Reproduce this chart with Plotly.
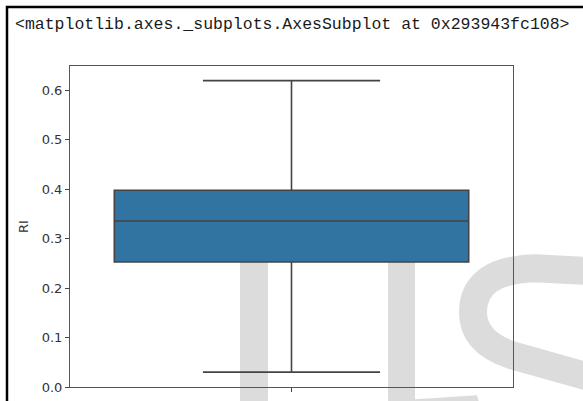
import plotly.graph_objects as go

# ---- data ----
categories = [0]
q1_vals = [0.253]
median_vals = [0.336]
q3_vals = [0.398]
lower_vals = [0.030]
upper_vals = [0.620]
y_tick_vals = [0.0, 0.1, 0.2, 0.3, 0.4, 0.5, 0.6]
y_tick_text = ["0.0", "0.1", "0.2", "0.3", "0.4", "0.5", "0.6"]
header_text = "<matplotlib.axes._subplots.AxesSubplot at 0x293943fc108>"
y_label = "RI"

W, H = 583, 401
L, R, T, B = 70, 70, 66, 14.3
PW, PH = W - L - R, H - T - B


def px(x):
    return (x - L) / PW


def py(y):
    return (H - B - y) / PH


fig = go.Figure()
fig.add_trace(go.Box(
    x=categories, q1=q1_vals, median=median_vals, q3=q3_vals,
    lowerfence=lower_vals, upperfence=upper_vals,
    width=0.8, whiskerwidth=0.5,
    fillcolor="#3274a1",
    line=dict(color="#444444", width=1.6),
    boxpoints=False, showlegend=False, hoverinfo="skip",
))

wm = "#dcdcdc"
shapes = []
# watermark stems
for x0, x1 in [(240, 268), (388, 415)]:
    shapes.append(dict(type="rect", xref="paper", yref="paper", layer="below",
                       x0=px(x0), x1=px(x1), y0=py(405), y1=py(260),
                       fillcolor=wm, line=dict(width=0)))
# watermark S (stroke)
pts = [(590, 271), (535, 268), (473, 270), (473, 312), (473, 342), (512, 355), (590, 377)]
p = [(px(a), py(b)) for a, b in pts]
path = (f"M {p[0][0]},{p[0][1]} L {p[1][0]},{p[1][1]} "
        f"Q {p[2][0]},{p[2][1]} {p[3][0]},{p[3][1]} "
        f"Q {p[4][0]},{p[4][1]} {p[5][0]},{p[5][1]} L {p[6][0]},{p[6][1]}")
shapes.append(dict(type="path", xref="paper", yref="paper", layer="below",
                   path=path, line=dict(color=wm, width=28)))
# S bottom tail fragment
tail = [(415, 405), (415, 399), (477, 395), (480, 405)]
tp = [(px(a), py(b)) for a, b in tail]
shapes.append(dict(type="path", xref="paper", yref="paper", layer="below",
                   path="M " + " L ".join(f"{a},{b}" for a, b in tp) + " Z",
                   fillcolor=wm, line=dict(width=0)))
# outer frame (left and top)
shapes.append(dict(type="path", xref="paper", yref="paper", layer="above",
                   path=f"M {px(7)},{py(410)} L {px(7)},{py(7)} L {px(590)},{py(7)}",
                   line=dict(color="black", width=2.5)))

fig.update_layout(
    width=W, height=H,
    margin=dict(l=L, r=R, t=T, b=B, pad=0),
    paper_bgcolor="white", plot_bgcolor="rgba(0,0,0,0)",
    shapes=shapes,
    font=dict(family="DejaVu Sans", size=13, color="#333333"),
    annotations=[dict(
        text=header_text.replace("<", "&lt;").replace(">", "&gt;"),
        xref="paper", yref="paper", x=px(12.5), y=py(25),
        xanchor="left", yanchor="middle", showarrow=False,
        font=dict(family="Liberation Mono", size=16.5, color="#1a1a1a"),
    )],
)
fig.update_xaxes(
    range=[-0.5, 0.5], tickvals=[0], showticklabels=False, automargin=False,
    ticks="outside", ticklen=4, tickcolor="#444444", tickwidth=1,
    showline=True, mirror=True, linecolor="#555555", linewidth=1,
    showgrid=False, zeroline=False, fixedrange=True,
)
fig.update_yaxes(
    range=[0.0, 0.6495], tickvals=y_tick_vals, ticktext=y_tick_text, automargin=False,
    ticks="outside", ticklen=4, tickcolor="#444444", tickwidth=1,
    showline=True, mirror=True, linecolor="#555555", linewidth=1,
    showgrid=False, zeroline=False,
    title=dict(text=y_label, standoff=10, font=dict(size=13)),
    tickfont=dict(size=13),
)

fig.write_html("out.html")
